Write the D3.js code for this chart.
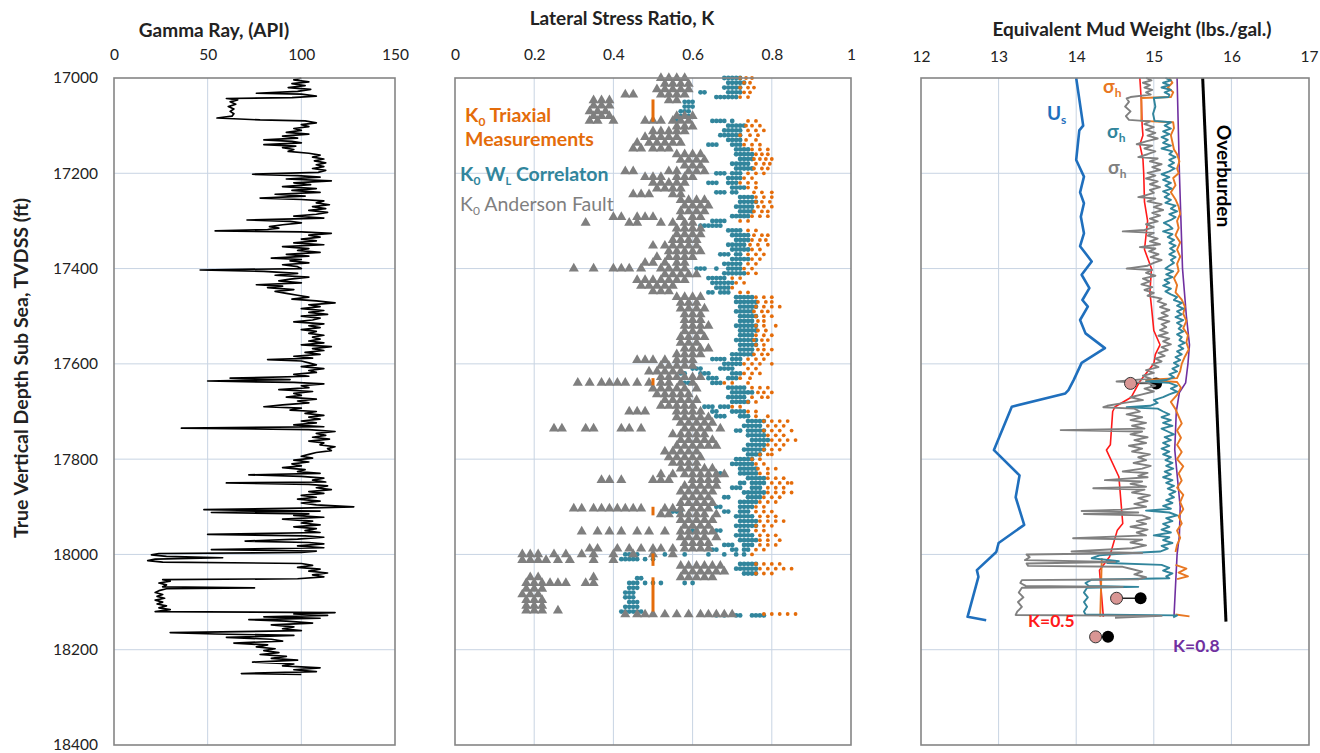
<!DOCTYPE html>
<html>
<head>
<meta charset="utf-8">
<script src="https://cdn.jsdelivr.net/npm/d3@7"></script>
<style>
  body { margin: 0; background: #fff; }
  svg text { font-family: Lato, "Open Sans", sans-serif; }
</style>
</head>
<body>
<svg width="1320" height="753"></svg>
<script>
// depth ticks shared by all three tracks
const depthTicks = [17000, 17200, 17400, 17600, 17800, 18000, 18200, 18400];
const grTicks = [0, 50, 100, 150];
const kTicks = [0, 0.2, 0.4, 0.6, 0.8, 1];
const mwTicks = [12, 13, 14, 15, 16, 17];

// gamma ray log [depth, API]
const gammaRay = [
  [17000,100],[17004,96],[17008,104],[17012,95],[17016,102],[17020,93],[17024,105],[17028,98],[17032,76],[17034,100],
  [17038,108],[17041,95],[17043,60],[17046,66],[17050,62],[17055,65],[17060,61],[17065,64],[17070,62],[17075,64],
  [17080,63],[17084,55],[17088,78],[17090,102],[17094,108],[17098,100],[17102,104],[17106,96],[17110,100],[17114,92],
  [17118,104],[17122,90],[17126,98],[17130,80],[17133,95],[17136,100],[17140,80],[17143,97],[17146,90],[17150,96],
  [17154,93],[17158,104],[17162,110],[17166,106],[17170,112],[17174,107],[17178,113],[17182,108],[17186,112],[17190,106],
  [17194,113],[17198,109],[17202,74],[17205,98],[17208,110],[17212,92],[17216,116],[17220,96],[17224,105],[17228,90],
  [17232,108],[17236,95],[17240,110],[17244,86],[17248,102],[17252,78],[17255,100],[17258,112],[17262,108],[17266,115],
  [17270,106],[17274,113],[17278,104],[17282,114],[17286,108],[17290,96],[17294,112],[17298,71],[17301,94],[17304,100],
  [17308,90],[17312,83],[17315,88],[17318,82],[17321,54],[17323,100],[17326,116],[17330,104],[17334,110],[17338,100],
  [17342,108],[17346,96],[17350,112],[17354,90],[17358,104],[17362,98],[17366,110],[17370,92],[17374,104],[17378,84],
  [17381,100],[17384,94],[17388,104],[17392,90],[17396,98],[17400,100],[17403,46],[17406,80],[17410,98],[17414,86],
  [17418,104],[17422,94],[17426,88],[17430,100],[17434,76],[17437,90],[17440,82],[17444,96],[17448,86],[17452,92],
  [17456,98],[17460,104],[17464,95],[17468,108],[17472,118],[17476,104],[17480,110],[17484,100],[17488,112],[17492,104],
  [17496,114],[17500,100],[17504,110],[17508,106],[17512,96],[17516,112],[17520,104],[17524,110],[17528,100],[17532,108],
  [17536,104],[17540,112],[17544,106],[17548,110],[17552,104],[17556,112],[17560,100],[17564,116],[17568,106],[17572,112],
  [17576,102],[17580,110],[17584,96],[17588,106],[17591,82],[17594,100],[17598,104],[17602,108],[17606,100],[17610,112],
  [17614,104],[17618,108],[17622,96],[17626,104],[17630,62],[17633,94],[17636,50],[17639,96],[17642,112],[17646,100],
  [17650,104],[17654,88],[17658,106],[17662,96],[17666,100],[17670,92],[17674,108],[17678,98],[17682,104],[17686,90],
  [17690,80],[17693,100],[17697,94],[17700,108],[17704,102],[17708,112],[17712,104],[17716,110],[17720,100],[17724,108],
  [17728,96],[17732,112],[17735,36],[17738,104],[17742,118],[17746,108],[17750,113],[17754,106],[17758,115],[17762,104],
  [17766,112],[17770,110],[17774,118],[17778,114],[17782,116],[17786,108],[17790,104],[17794,100],[17798,106],[17802,96],
  [17806,104],[17810,95],[17814,100],[17818,90],[17822,102],[17826,98],[17830,110],[17833,72],[17836,100],[17840,112],
  [17844,106],[17848,113],[17850,60],[17853,104],[17856,114],[17860,108],[17864,116],[17868,104],[17872,112],[17876,100],
  [17880,108],[17884,98],[17888,110],[17892,100],[17896,108],[17900,128],[17903,100],[17906,48],[17909,110],[17912,52],
  [17915,104],[17918,96],[17922,112],[17926,90],[17930,106],[17934,100],[17938,110],[17942,96],[17946,108],[17950,102],
  [17954,110],[17958,50],[17961,102],[17964,112],[17968,98],[17972,70],[17975,104],[17978,112],[17982,98],[17986,112],
  [17990,52],[17993,108],[17996,100],[17998,24],[18001,20],[18004,28],[18007,58],[18010,22],[18013,18],[18016,26],
  [18019,100],[18023,106],[18027,98],[18031,110],[18035,104],[18039,114],[18043,106],[18047,112],[18051,98],[18053,26],
  [18056,30],[18060,24],[18064,28],[18068,26],[18070,75],[18072,28],[18076,24],[18080,22],[18084,26],[18088,23],
  [18092,27],[18096,22],[18100,26],[18104,23],[18108,28],[18112,24],[18116,30],[18120,22],[18122,118],[18125,96],
  [18128,114],[18131,80],[18134,110],[18137,72],[18140,92],[18144,106],[18148,84],[18152,96],[18156,90],[18160,100],
  [18164,30],[18167,54],[18170,96],[18174,60],[18178,84],[18182,90],[18186,64],[18190,82],[18194,76],[18198,86],
  [18202,80],[18206,88],[18210,78],[18214,92],[18218,84],[18222,98],[18226,74],[18230,96],[18234,90],[18238,110],
  [18242,96],[18246,108],[18250,68],[18252,100]
];

// K0 Anderson fault: [depth, [K...]]
const andersonK = [
  [17000,[0.52,0.54,0.56,0.58]],[17012,[0.53,0.55,0.57,0.59]],[17024,[0.51,0.53,0.55,0.57,0.59]],
  [17035,[0.43,0.45,0.52,0.54,0.56,0.58]],[17047,[0.35,0.37,0.39,0.54,0.56]],[17058,[0.35,0.37,0.39]],
  [17070,[0.34,0.36,0.38]],[17080,[0.35,0.37,0.39,0.56,0.58,0.6]],[17090,[0.34,0.36,0.4,0.48,0.5,0.52,0.55,0.57,0.59]],
  [17102,[0.56,0.58,0.6]],[17112,[0.5,0.52,0.54,0.56,0.58]],[17124,[0.48,0.5,0.52,0.54,0.56]],
  [17136,[0.46,0.49,0.51,0.53,0.55,0.57]],[17148,[0.45,0.47,0.5,0.52,0.54]],[17160,[0.56,0.58,0.6,0.62]],
  [17172,[0.57,0.59,0.61,0.63]],[17184,[0.58,0.6,0.62]],[17196,[0.43,0.45,0.54,0.56,0.59,0.61,0.63]],
  [17208,[0.48,0.5,0.52,0.56,0.58,0.6]],[17220,[0.5,0.52,0.54,0.56,0.58]],[17232,[0.51,0.53,0.55,0.57]],
  [17244,[0.45,0.47,0.49,0.55,0.57]],[17256,[0.57,0.59,0.61,0.63]],[17268,[0.58,0.6,0.62,0.64]],
  [17280,[0.57,0.59,0.61,0.63]],[17292,[0.4,0.42,0.46,0.48,0.5,0.57,0.6,0.62]],[17304,[0.33,0.44,0.46,0.52,0.55,0.58,0.6]],
  [17316,[0.56,0.58,0.6,0.62]],[17328,[0.56,0.58,0.6,0.62]],[17340,[0.55,0.57,0.59,0.61]],
  [17352,[0.5,0.53,0.55,0.57,0.59,0.61]],[17364,[0.54,0.56,0.58,0.6,0.62]],[17376,[0.51,0.54,0.56,0.58,0.6]],
  [17388,[0.48,0.5,0.53,0.56,0.58]],[17400,[0.3,0.35,0.4,0.42,0.44,0.47,0.52,0.54,0.56,0.58]],
  [17412,[0.53,0.55,0.57,0.59,0.61]],[17424,[0.46,0.48,0.5,0.52,0.54,0.56,0.58]],[17436,[0.47,0.49,0.51,0.53,0.55]],
  [17448,[0.5,0.52,0.54]],[17460,[0.56,0.58,0.6,0.62]],[17472,[0.57,0.59,0.61]],[17484,[0.57,0.59,0.61,0.63]],
  [17496,[0.58,0.6,0.62]],[17508,[0.58,0.6,0.62]],[17520,[0.58,0.6,0.62,0.64]],[17532,[0.58,0.6,0.62]],
  [17544,[0.57,0.59,0.61,0.63]],[17556,[0.57,0.59,0.61]],[17568,[0.58,0.6,0.62,0.64]],[17580,[0.56,0.58,0.6,0.62]],
  [17592,[0.46,0.48,0.5,0.53,0.56,0.58,0.6]],[17604,[0.52,0.54,0.56,0.58,0.6]],[17616,[0.49,0.51,0.53,0.55,0.57]],
  [17628,[0.52,0.54,0.56,0.58,0.6,0.62]],[17640,[0.31,0.34,0.37,0.39,0.41,0.43,0.46,0.49,0.52,0.54,0.57,0.6]],
  [17652,[0.5,0.52,0.54,0.56,0.58,0.61]],[17664,[0.51,0.53,0.55,0.57,0.59]],[17676,[0.53,0.55,0.57,0.59,0.61]],
  [17688,[0.52,0.54,0.56,0.58,0.6]],[17700,[0.44,0.46,0.48,0.56,0.58,0.6,0.62]],[17712,[0.56,0.58,0.6,0.62,0.64]],
  [17724,[0.57,0.59,0.61,0.63,0.65]],[17736,[0.25,0.27,0.33,0.35,0.42,0.44,0.47,0.58,0.6,0.62,0.64,0.67]],
  [17748,[0.55,0.57,0.59,0.61,0.63]],[17760,[0.57,0.59,0.61,0.63,0.65]],[17772,[0.56,0.58,0.6,0.62,0.64,0.66]],
  [17784,[0.53,0.55,0.57,0.59,0.61]],[17796,[0.54,0.56,0.58,0.6,0.62]],[17808,[0.55,0.57,0.59,0.61]],
  [17820,[0.57,0.59,0.61,0.63,0.65]],[17832,[0.52,0.55,0.58,0.6,0.62,0.64,0.66,0.68]],
  [17844,[0.37,0.39,0.42,0.5,0.52,0.54,0.6,0.62,0.64,0.66]],[17856,[0.58,0.6,0.62,0.64,0.66]],
  [17868,[0.57,0.59,0.61,0.63,0.65]],[17880,[0.58,0.6,0.62,0.64]],[17892,[0.57,0.59,0.61,0.63,0.65]],
  [17904,[0.3,0.32,0.35,0.37,0.39,0.41,0.43,0.45,0.47,0.53,0.55,0.57,0.6,0.62,0.64]],
  [17916,[0.52,0.54,0.57,0.59,0.61,0.63,0.66]],[17928,[0.57,0.59,0.61,0.63,0.65]],[17940,[0.58,0.6,0.62,0.64]],
  [17952,[0.32,0.36,0.39,0.42,0.46,0.49,0.53,0.57,0.59,0.61,0.63,0.65]],[17964,[0.57,0.59,0.61,0.63,0.66]],
  [17976,[0.58,0.6,0.62,0.64]],[17988,[0.34,0.36,0.41,0.44,0.47,0.5,0.52,0.55,0.58,0.6,0.62,0.64]],
  [18000,[0.17,0.19,0.21,0.25,0.28,0.32,0.35,0.4,0.45,0.5,0.55]],[18012,[0.17,0.19,0.21,0.23,0.26,0.29,0.35,0.4]],
  [18024,[0.57,0.59,0.61,0.63,0.65,0.67]],[18036,[0.58,0.6,0.62,0.64,0.66,0.68]],
  [18048,[0.19,0.21,0.35,0.57,0.59,0.61,0.63,0.65]],[18060,[0.18,0.2,0.22,0.24,0.26,0.28,0.33,0.35]],
  [18072,[0.18,0.2,0.22]],[18084,[0.17,0.19,0.21]],[18096,[0.18,0.2,0.22]],[18108,[0.18,0.2,0.22]],
  [18118,[0.18,0.2,0.22,0.26]],[18126,[0.43,0.46,0.48,0.5,0.53,0.56,0.59,0.62,0.64,0.66,0.68,0.7]]
];

// K0 from WL correlation: [depth, [K...]]
const wlK = [
  [17000,[0.68,0.69,0.7,0.71,0.72]],[17010,[0.69,0.7,0.71,0.72,0.73]],[17020,[0.68,0.69,0.7,0.71,0.72]],
  [17030,[0.62,0.63,0.69,0.7,0.71,0.72]],[17040,[0.66,0.67,0.68,0.69,0.7,0.71]],[17050,[0.58,0.59,0.6]],
  [17060,[0.58,0.59,0.6]],[17070,[0.57,0.58,0.59]],[17080,[0.56,0.57,0.58,0.59]],
  [17090,[0.55,0.56,0.65,0.66,0.67,0.68,0.7]],[17100,[0.69,0.7,0.71,0.72,0.73]],[17110,[0.68,0.69,0.7,0.71,0.72]],
  [17120,[0.67,0.68,0.69,0.7,0.71,0.72]],[17130,[0.69,0.7,0.71,0.72]],[17140,[0.64,0.65,0.66,0.7,0.71,0.72]],
  [17150,[0.71,0.72,0.73,0.74]],[17160,[0.71,0.72,0.73,0.74,0.75]],[17170,[0.72,0.73,0.74,0.75]],
  [17180,[0.7,0.71,0.72,0.73,0.74]],[17190,[0.71,0.72,0.73,0.74,0.75]],[17200,[0.66,0.67,0.68,0.7,0.71,0.72]],
  [17210,[0.69,0.7,0.71,0.72]],[17220,[0.64,0.65,0.66,0.69,0.7,0.71]],[17230,[0.7,0.71,0.72,0.73]],
  [17240,[0.66,0.67,0.68,0.7,0.71]],[17250,[0.72,0.73,0.74,0.75]],[17260,[0.72,0.73,0.74,0.75,0.76]],
  [17270,[0.71,0.72,0.73,0.74,0.75]],[17280,[0.72,0.73,0.74,0.75]],[17290,[0.7,0.71,0.72,0.73,0.74]],
  [17300,[0.65,0.66,0.67,0.68]],[17310,[0.62,0.63,0.64,0.65,0.66,0.67]],[17320,[0.69,0.7,0.71,0.72]],
  [17330,[0.7,0.71,0.72,0.73,0.74]],[17340,[0.71,0.72,0.73,0.74]],[17350,[0.69,0.7,0.71,0.72,0.73]],
  [17360,[0.7,0.71,0.72,0.73,0.74]],[17370,[0.67,0.68,0.69,0.71,0.72]],[17380,[0.7,0.71,0.72,0.73,0.74]],
  [17390,[0.68,0.69,0.7,0.71,0.72]],[17400,[0.61,0.62,0.63,0.66,0.69,0.7,0.71,0.72]],
  [17410,[0.68,0.69,0.7,0.71,0.72,0.73]],[17420,[0.64,0.65,0.66,0.67,0.68]],[17430,[0.65,0.66,0.67,0.68,0.69,0.7]],
  [17440,[0.66,0.67,0.68,0.69]],[17450,[0.64,0.65,0.67,0.68,0.69]],[17460,[0.71,0.72,0.73,0.74,0.75]],
  [17470,[0.71,0.72,0.73,0.74,0.75,0.76]],[17480,[0.72,0.73,0.74,0.75,0.76]],[17490,[0.71,0.72,0.73,0.74,0.75]],
  [17500,[0.72,0.73,0.74,0.75,0.76]],[17510,[0.72,0.73,0.74,0.75]],[17520,[0.71,0.72,0.73,0.74,0.75,0.76]],
  [17530,[0.72,0.73,0.74,0.75,0.76]],[17540,[0.72,0.73,0.74,0.75]],[17550,[0.71,0.72,0.73,0.74,0.75,0.76]],
  [17560,[0.72,0.73,0.74,0.75,0.76]],[17570,[0.72,0.73,0.74,0.75]],[17580,[0.7,0.71,0.72,0.73,0.74,0.75]],
  [17590,[0.65,0.66,0.67,0.68,0.7,0.71,0.72]],[17600,[0.68,0.69,0.7,0.71,0.72]],
  [17610,[0.6,0.61,0.62,0.67,0.68,0.69,0.7]],[17620,[0.57,0.58,0.62,0.63,0.64,0.7,0.71,0.72]],
  [17630,[0.64,0.65,0.66,0.69,0.7,0.71]],[17640,[0.58,0.59,0.6,0.65,0.66,0.67]],[17650,[0.69,0.7,0.71,0.72,0.73]],
  [17660,[0.7,0.71,0.72,0.73,0.74,0.75]],[17670,[0.69,0.7,0.71,0.72,0.73]],[17680,[0.7,0.71,0.72,0.73,0.74]],
  [17690,[0.63,0.64,0.65,0.67,0.68,0.69]],[17700,[0.65,0.66,0.7,0.71,0.72,0.73]],[17710,[0.66,0.67,0.68,0.72,0.73,0.74]],
  [17720,[0.74,0.75,0.76,0.77,0.78]],[17730,[0.73,0.74,0.75,0.76,0.77]],[17740,[0.71,0.72,0.74,0.75,0.76,0.77,0.78]],
  [17750,[0.74,0.75,0.76,0.77,0.78]],[17760,[0.75,0.76,0.77,0.78,0.79]],[17770,[0.74,0.75,0.76,0.77,0.78]],
  [17780,[0.73,0.74,0.75,0.76,0.77,0.78]],[17790,[0.74,0.75,0.76,0.77]],[17800,[0.71,0.72,0.73,0.74,0.75]],
  [17810,[0.7,0.71,0.72,0.73,0.74,0.75]],[17820,[0.72,0.73,0.74,0.75,0.76]],[17830,[0.66,0.67,0.72,0.73,0.74,0.75,0.76]],
  [17840,[0.74,0.75,0.76,0.77,0.78]],[17850,[0.72,0.73,0.75,0.76,0.77,0.78]],[17860,[0.7,0.71,0.72,0.75,0.76,0.77]],
  [17870,[0.73,0.74,0.75,0.76,0.77,0.78]],[17880,[0.68,0.69,0.74,0.75,0.76,0.77]],[17890,[0.72,0.73,0.74,0.75,0.76]],
  [17900,[0.66,0.67,0.72,0.73,0.74,0.75]],[17910,[0.55,0.56,0.57,0.68,0.69,0.72,0.73,0.74]],
  [17920,[0.71,0.72,0.73,0.74,0.75]],[17930,[0.72,0.73,0.74,0.75,0.76]],[17940,[0.71,0.72,0.73,0.74,0.75,0.76]],
  [17950,[0.6,0.61,0.66,0.67,0.72,0.73,0.74]],[17960,[0.71,0.72,0.73,0.74,0.75]],[17970,[0.72,0.73,0.74,0.75,0.76]],
  [17980,[0.68,0.69,0.7,0.73,0.74,0.75]],[17990,[0.65,0.66,0.7,0.71,0.73,0.74]],
  [18000,[0.43,0.44,0.45,0.46,0.53,0.58,0.64,0.68,0.71,0.73]],[18010,[0.42,0.43,0.44,0.45,0.46,0.48,0.5]],
  [18020,[0.72,0.73,0.74,0.75,0.76]],[18030,[0.71,0.72,0.73,0.74,0.75,0.76]],[18040,[0.73,0.74,0.75,0.76]],
  [18050,[0.46,0.47]],[18060,[0.44,0.45,0.46,0.48,0.5,0.52,0.58,0.6]],[18070,[0.44,0.45,0.46]],
  [18080,[0.43,0.44,0.45]],[18090,[0.43,0.44,0.45]],[18100,[0.44,0.45,0.46]],[18110,[0.43,0.44,0.45,0.46]],
  [18120,[0.42,0.43,0.44,0.45,0.46,0.47]],[18128,[0.66,0.68,0.71,0.72,0.75,0.76,0.77,0.78]]
];

// K0 triaxial (orange dots): [depth, [K...]]
const triaxK = [
  [17000,[0.72,0.735,0.75]],[17010,[0.73,0.745]],[17020,[0.72,0.74,0.755]],[17030,[0.73,0.745]],[17040,[0.72,0.74]],
  [17090,[0.74,0.76]],[17100,[0.735,0.75,0.77]],[17110,[0.74,0.76,0.78]],[17120,[0.72,0.745,0.765]],[17130,[0.735,0.76]],
  [17140,[0.73,0.75,0.77]],[17150,[0.75,0.77,0.79]],[17160,[0.76,0.775,0.79]],[17170,[0.755,0.77,0.785,0.8]],
  [17180,[0.76,0.78,0.795]],[17190,[0.755,0.775,0.79]],[17200,[0.74,0.76,0.78]],[17210,[0.73,0.75]],
  [17220,[0.72,0.74,0.76]],[17230,[0.74,0.76]],[17240,[0.755,0.775,0.8]],[17250,[0.76,0.78,0.8]],
  [17260,[0.76,0.775,0.795]],[17270,[0.765,0.78,0.8]],[17280,[0.755,0.775,0.79]],[17290,[0.75,0.77,0.79]],
  [17300,[0.72,0.74]],[17320,[0.74,0.76]],[17330,[0.755,0.775,0.79]],[17340,[0.75,0.77,0.785]],
  [17350,[0.745,0.765,0.79]],[17360,[0.75,0.77]],[17370,[0.74,0.76,0.78]],[17380,[0.75,0.77]],[17390,[0.74,0.76]],
  [17400,[0.73,0.75]],[17410,[0.74,0.76]],[17420,[0.7,0.72]],[17430,[0.71,0.73]],[17440,[0.7]],[17450,[0.72,0.74]],
  [17460,[0.76,0.78,0.8]],[17470,[0.765,0.785,0.8]],[17480,[0.76,0.78,0.8,0.82]],[17490,[0.755,0.775,0.79]],
  [17500,[0.76,0.78,0.8]],[17510,[0.765,0.78]],[17520,[0.76,0.78,0.81]],[17530,[0.765,0.785]],[17540,[0.76,0.78,0.8]],
  [17550,[0.755,0.775,0.79]],[17560,[0.76,0.78]],[17570,[0.765,0.78,0.8]],[17580,[0.755,0.775,0.79]],
  [17590,[0.74,0.76,0.78]],[17600,[0.73,0.75,0.77,0.8]],[17610,[0.74,0.76]],[17620,[0.73,0.75,0.77]],
  [17630,[0.72,0.745]],[17640,[0.68,0.7,0.74]],[17650,[0.75,0.77,0.79]],[17660,[0.765,0.78,0.8]],
  [17670,[0.75,0.775,0.79]],[17680,[0.74,0.76]],[17690,[0.7,0.72]],[17700,[0.74,0.76]],[17710,[0.76,0.79]],
  [17720,[0.78,0.8,0.82,0.84]],[17730,[0.79,0.81,0.83]],[17740,[0.78,0.8,0.82,0.85]],[17750,[0.79,0.81,0.83]],
  [17760,[0.8,0.82,0.84,0.86]],[17770,[0.79,0.81,0.83]],[17780,[0.78,0.8,0.82]],[17790,[0.77,0.79,0.8]],
  [17800,[0.75,0.77]],[17810,[0.76,0.78]],[17820,[0.765,0.79,0.81]],[17830,[0.77,0.79]],[17840,[0.79,0.81,0.83]],
  [17850,[0.8,0.82,0.84,0.85]],[17860,[0.79,0.81,0.83]],[17870,[0.79,0.81,0.83,0.85]],[17880,[0.78,0.8,0.82]],
  [17890,[0.77,0.79,0.81]],[17900,[0.76,0.78]],[17910,[0.76,0.78,0.8]],[17920,[0.77,0.79,0.81]],
  [17930,[0.77,0.79,0.81,0.83]],[17940,[0.76,0.78,0.8]],[17950,[0.76,0.78]],[17960,[0.77,0.79,0.81]],
  [17970,[0.77,0.79,0.82]],[17980,[0.77,0.79,0.81]],[17990,[0.76,0.78]],[18000,[0.75]],
  [18020,[0.76,0.78,0.8,0.82]],[18030,[0.77,0.79,0.81,0.83,0.85]],[18040,[0.76,0.78,0.8]],
  [18125,[0.78,0.8,0.82,0.84,0.86]]
];

// triaxial K0 measurement intervals [K, top, bottom]
const triaxIntervals = [[0.5,17045,17092],[0.5,17630,17645],[0.5,17900,17918],[0.5,17998,18024],[0.5,18048,18120]];

// mud weight track [depth, ppg]; null breaks the line
const shOrange = [
  [17000,15.2],[17010,15.24],[17020,15.18],[17030,15.25],[17040,15.22],[17042,14.84],[17090,14.84],[17093,15.25],
  [17105,15.26],[17120,15.22],[17135,15.24],[17150,15.26],[17160,15.3],[17175,15.33],[17190,15.3],[17200,15.32],
  [17210,15.25],[17225,15.28],[17240,15.22],[17255,15.28],[17270,15.32],[17285,15.34],[17300,15.3],[17315,15.32],
  [17330,15.28],[17345,15.34],[17360,15.3],[17375,15.34],[17390,15.3],[17405,15.32],[17420,15.26],[17435,15.3],
  [17450,15.28],[17465,15.36],[17480,15.4],[17495,15.38],[17510,15.42],[17525,15.38],[17540,15.44],[17555,15.42],
  [17570,15.45],[17585,15.4],[17600,15.36],[17615,15.34],[17630,15.3],[17634,14.9],[17638,15.3],[17650,15.35],
  [17665,15.3],[17680,15.22],[17695,15.28],[17710,15.32],[17725,15.36],[17740,15.3],[17755,15.35],[17770,15.3],
  [17785,15.36],[17800,15.3],[17815,15.38],[17830,15.32],[17845,15.36],[17860,15.3],[17875,15.38],[17890,15.34],
  [17905,15.38],[17920,15.32],[17935,15.36],[17950,15.3],[17965,15.34],[17980,15.3],[17995,15.28],
  [18000,null],[18022,15.28],[18030,15.42],[18038,15.32],[18046,15.44],[18052,15.3],
  [18055,null],[18008,14.33],[18131,14.31],
  [18131,null],[18126,15.28],[18130,15.46]
];
const shTeal = [
  [17000,15.15],[17005,15.22],[17010,15.12],[17015,15.2],[17020,15.1],[17025,15.22],[17030,15.14],[17035,15.2],
  [17040,15.19],[17042,15.0],[17060,15.02],[17075,14.99],[17090,15.01],[17093,15.22],[17100,15.14],[17106,15.22],
  [17112,15.12],[17118,15.2],[17124,15.1],[17130,15.18],[17136,15.12],[17142,15.22],[17148,15.1],[17154,15.24],
  [17160,15.2],[17166,15.28],[17172,15.2],[17178,15.26],[17184,15.19],[17190,15.27],[17196,15.2],[17202,15.1],
  [17208,15.2],[17214,15.12],[17220,15.22],[17226,15.15],[17232,15.23],[17238,15.12],[17244,15.2],[17250,15.14],
  [17256,15.22],[17262,15.15],[17268,15.28],[17274,15.22],[17280,15.3],[17286,15.2],[17292,15.28],[17298,15.22],
  [17304,15.13],[17310,15.2],[17316,15.24],[17322,15.12],[17328,15.24],[17334,15.18],[17340,15.26],[17346,15.2],
  [17352,15.28],[17358,15.21],[17364,15.27],[17370,15.2],[17376,15.28],[17382,15.22],[17388,15.26],[17394,15.2],
  [17400,15.15],[17406,15.25],[17412,15.16],[17418,15.24],[17424,15.14],[17430,15.2],[17436,15.12],[17442,15.22],
  [17448,15.15],[17454,15.22],[17460,15.3],[17466,15.26],[17472,15.36],[17478,15.3],[17484,15.38],[17490,15.3],
  [17496,15.36],[17502,15.28],[17508,15.38],[17514,15.3],[17520,15.36],[17526,15.32],[17532,15.38],[17538,15.3],
  [17544,15.36],[17550,15.33],[17556,15.4],[17562,15.32],[17568,15.38],[17574,15.3],[17580,15.36],[17586,15.28],
  [17592,15.34],[17598,15.26],[17604,15.32],[17610,15.24],[17616,15.3],[17622,15.2],[17628,15.26],[17634,15.16],
  [17637,14.9],[17640,15.2],[17646,15.3],[17652,15.22],[17658,15.3],[17664,15.2],[17670,15.12],[17676,15.0],
  [17682,15.05],[17688,14.95],[17691,14.65],[17694,15.05],[17700,15.12],[17706,15.2],[17712,15.1],[17718,15.22],
  [17724,15.12],[17730,15.24],[17736,15.1],[17742,15.18],[17748,15.26],[17754,15.14],[17760,15.22],[17766,15.12],
  [17772,15.2],[17778,15.1],[17784,15.2],[17790,15.12],[17796,15.22],[17802,15.15],[17808,15.24],[17814,15.16],
  [17820,15.25],[17826,15.14],[17832,15.22],[17838,15.12],[17844,15.24],[17850,15.16],[17856,15.26],[17862,15.18],
  [17868,15.28],[17874,15.2],[17880,15.26],[17886,15.16],[17892,15.24],[17898,15.12],[17904,15.22],[17908,14.9],
  [17912,15.2],[17918,15.3],[17924,15.16],[17930,15.24],[17936,15.12],[17942,15.2],[17948,15.1],[17954,15.22],
  [17960,15.0],[17964,15.2],[17970,15.12],[17976,15.24],[17982,15.1],[17988,15.18],[17994,15.08],[17998,14.6],
  [18002,14.3],[18008,14.2],[18014,14.55],[18018,14.4],[18022,15.1],[18028,15.2],[18034,15.12],[18040,15.24],
  [18046,15.16],[18050,15.2],[18053,14.2],[18060,14.12],[18066,14.16],[18068,14.8],[18070,14.14],[18080,14.1],
  [18090,14.15],[18100,14.1],[18110,14.14],[18120,14.1],[18126,14.12],[18128,15.3],[18132,15.25]
];
const shGray = [
  [17000,14.9],[17005,14.97],[17010,14.86],[17015,14.95],[17020,14.88],[17025,14.98],[17030,14.9],[17035,14.96],
  [17040,14.7],[17043,14.65],[17050,14.68],[17060,14.63],[17070,14.7],[17080,14.64],[17088,14.68],[17091,14.95],
  [17097,14.88],[17103,15.0],[17109,14.9],[17115,15.02],[17121,14.92],[17127,15.05],[17133,14.9],[17139,14.78],
  [17142,14.98],[17148,14.88],[17154,15.02],[17160,14.92],[17166,14.8],[17169,15.05],[17175,14.95],[17181,15.1],
  [17187,14.98],[17193,15.08],[17199,14.92],[17205,15.02],[17211,14.9],[17217,15.05],[17223,14.95],[17229,15.08],
  [17235,14.95],[17241,15.0],[17247,14.88],[17250,14.8],[17253,15.02],[17259,14.92],[17265,15.1],[17271,15.0],
  [17277,15.12],[17283,14.98],[17289,15.08],[17295,14.95],[17301,15.05],[17307,14.9],[17313,15.0],[17319,14.88],
  [17322,14.6],[17325,15.0],[17331,14.92],[17337,15.05],[17343,14.95],[17349,15.08],[17355,14.82],[17358,15.02],
  [17364,14.94],[17370,15.06],[17376,14.96],[17382,15.1],[17388,15.0],[17394,14.92],[17400,14.65],[17403,14.98],
  [17409,14.9],[17415,15.02],[17421,14.86],[17427,14.95],[17433,14.84],[17439,14.98],[17445,14.88],[17451,15.0],
  [17457,14.92],[17463,15.1],[17469,15.05],[17475,15.16],[17481,15.08],[17487,15.2],[17493,15.1],[17499,15.18],
  [17505,15.06],[17511,15.2],[17517,15.1],[17523,15.16],[17529,15.08],[17535,15.18],[17541,15.06],[17547,15.2],
  [17553,15.12],[17559,15.22],[17565,15.1],[17571,15.18],[17577,15.06],[17583,15.14],[17589,15.02],[17595,15.1],
  [17601,14.98],[17607,15.06],[17613,14.9],[17619,15.0],[17625,14.86],[17631,14.96],[17637,14.52],[17640,14.92],
  [17646,15.02],[17652,14.88],[17658,15.0],[17664,14.85],[17670,14.7],[17676,14.86],[17682,14.62],[17688,14.4],
  [17691,14.35],[17694,14.75],[17700,14.82],[17706,14.65],[17712,14.85],[17718,14.7],[17724,14.9],[17730,14.72],
  [17736,14.88],[17739,13.8],[17742,14.85],[17748,14.7],[17754,14.92],[17760,14.75],[17766,14.9],[17772,14.68],
  [17778,14.85],[17784,14.72],[17790,14.95],[17796,14.8],[17802,14.9],[17808,14.74],[17814,14.96],[17820,14.85],
  [17826,14.6],[17829,14.92],[17835,14.8],[17838,14.92],[17844,14.37],[17847,14.85],[17852,14.7],[17858,14.9],
  [17861,14.22],[17864,14.88],[17870,14.72],[17876,14.95],[17882,14.8],[17888,14.92],[17894,14.75],[17900,14.9],
  [17906,14.6],[17909,14.07],[17912,14.8],[17915,14.1],[17918,14.85],[17924,14.95],[17930,14.78],[17936,14.9],
  [17942,14.7],[17948,14.92],[17954,14.78],[17960,14.9],[17966,13.96],[17969,14.85],[17975,14.7],[17981,14.9],
  [17987,14.72],[17994,13.94],[17997,14.85],[18000,13.36],[18006,13.4],[18012,13.34],[18016,14.5],[18019,13.36],
  [18024,13.38],[18026,14.6],[18030,14.7],[18036,14.85],[18042,14.75],[18048,14.9],[18052,14.8],[18054,13.3],
  [18060,13.28],[18066,13.35],[18068,14.6],[18070,13.3],[18080,13.26],[18090,13.32],[18100,13.25],[18110,13.3],
  [18120,13.24],[18127,13.22],[18129,15.1],[18133,14.5]
];
const kHalf = [
  [17000,14.82],[17050,14.84],[17100,14.85],[17120,14.86],[17140,14.82],[17170,14.86],[17200,14.87],[17260,14.88],
  [17300,14.92],[17330,14.9],[17360,14.88],[17400,14.97],[17450,14.95],[17480,14.97],[17530,15.0],[17560,15.08],
  [17580,15.02],[17600,15.0],[17620,14.9],[17637,14.82],[17670,14.71],[17690,14.5],[17700,14.47],[17770,14.44],
  [17781,14.39],[17837,14.55],[17935,14.6],[17949,14.53],[18005,14.43],[18033,14.3],[18131,14.35]
];
const kEight = [
  [17000,15.3],[17200,15.33],[17400,15.37],[17500,15.42],[17560,15.46],[17600,15.44],[17640,15.41],[17660,15.33],
  [17700,15.29],[17780,15.27],[17900,15.34],[17960,15.33],[18000,15.3],[18131,15.26]
];
const overburden = [[17000,15.63],[18141,15.93]];
const porePressure = [
  [17000,14.0],[17100,14.09],[17110,14.04],[17172,14.0],[17207,14.1],[17240,14.05],[17263,14.1],[17291,14.06],
  [17326,14.1],[17353,14.05],[17385,14.2],[17413,14.07],[17441,14.17],[17466,14.08],[17480,14.15],[17508,14.05],
  [17536,14.12],[17567,14.37],[17598,14.07],[17633,13.97],[17655,13.9],[17662,13.86],[17690,13.17],[17781,12.94],
  [17834,13.27],[17880,13.22],[17938,13.33],[17976,13.0],[17995,12.97],[18033,12.72],[18047,12.74],[18131,12.6],
  [18138,12.84]
];
// paired measurements [depth, pink value, black value]
const testPairs = [[17641,14.7,15.03],[18092,14.52,14.83],[18173,14.25,14.41]];

const svg = d3.select('svg');
const y = d3.scaleLinear().domain([17000, 18400]).range([78, 745]);

const tracks = [
  {x: d3.scaleLinear().domain([0, 150]).range([114, 395]), ticks: grTicks, fmt: d => d},
  {x: d3.scaleLinear().domain([0, 1]).range([455, 851]), ticks: kTicks, fmt: d => d},
  {x: d3.scaleLinear().domain([12, 17]).range([921, 1309]), ticks: mwTicks, fmt: d => d}
];

const gridColor = '#c8d4e3';
const frameColor = '#858585';

tracks.forEach((t, i) => {
  const g = svg.append('g');
  const [x0, x1] = t.x.range();
  g.selectAll('.vg').data(t.ticks.slice(1, -1)).join('line')
    .attr('x1', d => t.x(d)).attr('x2', d => t.x(d))
    .attr('y1', y(17000)).attr('y2', y(18400))
    .attr('stroke', gridColor).attr('stroke-width', 1);
  g.selectAll('.hg').data(depthTicks.slice(1, -1)).join('line')
    .attr('x1', x0).attr('x2', x1)
    .attr('y1', d => y(d)).attr('y2', d => y(d))
    .attr('stroke', gridColor).attr('stroke-width', 1);

  const ax = svg.append('g')
    .attr('transform', `translate(0,${i === 2 ? 62 : 60})`)
    .call(d3.axisTop(t.x).tickValues(t.ticks).tickFormat(t.fmt).tickSize(0).tickPadding(0));
  ax.select('.domain').remove();
  ax.selectAll('text').attr('font-size', 15.5).attr('fill', '#222').attr('dy', 0);
  t.g = g;
});

// depth axis
const yAx = svg.append('g').attr('transform', 'translate(98,0)')
  .call(d3.axisLeft(y).tickValues(depthTicks).tickFormat(d => d).tickSize(0).tickPadding(0));
yAx.select('.domain').remove();
yAx.selectAll('text').attr('font-size', 15.5).attr('fill', '#222');

svg.append('text')
  .attr('transform', 'translate(28,368) rotate(-90)')
  .attr('text-anchor', 'middle').attr('font-size', 19.5).attr('font-weight', 'bold').attr('fill', '#222')
  .text('True Vertical Depth Sub Sea, TVDSS (ft)');

// titles
const titles = [['Gamma Ray, (API)', 214, 37], ['Lateral Stress Ratio, K', 622, 25], ['Equivalent Mud Weight (lbs./gal.)', 1132, 36]];
svg.selectAll('.title').data(titles).join('text')
  .attr('x', d => d[1]).attr('y', d => d[2])
  .attr('text-anchor', 'middle').attr('font-size', 19).attr('font-weight', 'bold').attr('fill', '#222')
  .text(d => d[0]);

const lineFor = sx => d3.line().defined(d => d[1] !== null).x(d => sx(d[1])).y(d => y(d[0]));

// --- track 1: gamma ray
const gx = tracks[0].x;
tracks[0].g.append('path').attr('d', lineFor(gx)(gammaRay))
  .attr('fill', 'none').attr('stroke', '#000').attr('stroke-width', 1.7).attr('stroke-linejoin', 'round');

// --- track 2: lateral stress ratio
const kx = tracks[1].x;
const flat = rows => rows.flatMap(([d, ks]) => ks.map(k => [d, k]));
const g2 = tracks[1].g;
g2.selectAll('.wl').data(flat(wlK)).join('circle')
  .attr('cx', d => kx(d[1])).attr('cy', d => y(d[0])).attr('r', 2.4).attr('fill', '#31859c');
g2.selectAll('.tx').data(flat(triaxK)).join('circle')
  .attr('cx', d => kx(d[1])).attr('cy', d => y(d[0])).attr('r', 1.9).attr('fill', '#e46c0a');
const tri = d3.symbol(d3.symbolTriangle, 44);
g2.selectAll('.af').data(flat(andersonK)).join('path')
  .attr('d', tri).attr('transform', d => `translate(${kx(d[1])},${y(d[0])})`).attr('fill', '#7f7f7f');
g2.selectAll('.ti').data(triaxIntervals).join('line')
  .attr('x1', d => kx(d[0])).attr('x2', d => kx(d[0]))
  .attr('y1', d => y(d[1])).attr('y2', d => y(d[2]))
  .attr('stroke', '#e46c0a').attr('stroke-width', 3);

// legend for track 2
const legend = [
  {t: 'K', s: '0', rest: ' Triaxial', x: 465, y: 122, c: '#e46c0a', w: 'bold'},
  {t: 'Measurements', s: '', rest: '', x: 465, y: 146, c: '#e46c0a', w: 'bold'},
  {t: 'K', s: '0', rest: ' W', s2: 'L', rest2: ' Correlaton', x: 460, y: 181, c: '#31859c', w: 'bold'},
  {t: 'K', s: '0', rest: ' Anderson Fault', x: 460, y: 211, c: '#7f7f7f', w: 'normal'}
];
legend.forEach(l => {
  const tx = svg.append('text').attr('x', l.x).attr('y', l.y).attr('font-size', 19.5)
    .attr('font-weight', l.w).attr('fill', l.c);
  tx.append('tspan').text(l.t);
  if (l.s) tx.append('tspan').attr('font-size', 12).attr('dy', 4).text(l.s);
  if (l.rest) tx.append('tspan').attr('dy', l.s ? -4 : 0).text(l.rest);
  if (l.s2) {
    tx.append('tspan').attr('font-size', 11).attr('dy', 4).text(l.s2);
    tx.append('tspan').attr('dy', -4).text(l.rest2);
  }
});

// --- track 3: mud weight
const mx = tracks[2].x;
const g3 = tracks[2].g;
const drawLine = (data, color, w) => g3.append('path').attr('d', lineFor(mx)(data))
  .attr('fill', 'none').attr('stroke', color).attr('stroke-width', w).attr('stroke-linejoin', 'round');

// connectors and black markers sit under the stress curves
const pairs = g3.selectAll('.pair').data(testPairs).join('g');
pairs.append('line')
  .attr('x1', d => mx(d[1])).attr('x2', d => mx(d[2]))
  .attr('y1', d => y(d[0])).attr('y2', d => y(d[0]))
  .attr('stroke', '#222').attr('stroke-width', 1.5);
pairs.append('circle').attr('cx', d => mx(d[2])).attr('cy', d => y(d[0])).attr('r', 6)
  .attr('fill', '#000');

drawLine(kHalf, '#ff1a1a', 1.6);
drawLine(kEight, '#7030a0', 1.6);
drawLine(shOrange, '#e87722', 1.9);
drawLine(shTeal, '#31859c', 1.9);
drawLine(shGray, '#808080', 1.9);
drawLine(porePressure, '#1f6fbd', 2.6);
drawLine(overburden, '#000', 3);

g3.selectAll('.pink').data(testPairs).join('circle')
  .attr('cx', d => mx(d[1])).attr('cy', d => y(d[0])).attr('r', 6)
  .attr('fill', '#d99694').attr('stroke', '#333').attr('stroke-width', 1);

// labels on track 3
const sig = [['#e87722', 1103, 93], ['#31859c', 1107, 138], ['#808080', 1108, 174]];
sig.forEach(([c, x, yy]) => {
  const t = svg.append('text').attr('x', x).attr('y', yy).attr('font-size', 19).attr('font-weight', 'bold').attr('fill', c);
  t.append('tspan').text('σ');
  t.append('tspan').attr('font-size', 12).attr('dy', 4).text('h');
});
const us = svg.append('text').attr('x', 1047).attr('y', 120).attr('font-size', 19).attr('font-weight', 'bold').attr('fill', '#1f6fbd');
us.append('tspan').text('U');
us.append('tspan').attr('font-size', 12).attr('dy', 4).text('s');

svg.append('text').attr('transform', 'translate(1217,176) rotate(90)')
  .attr('text-anchor', 'middle').attr('font-size', 19).attr('font-weight', 'bold').attr('fill', '#000')
  .text('Overburden');
svg.append('text').attr('x', 1028).attr('y', 627).attr('font-size', 17.5).attr('font-weight', 'bold')
  .attr('fill', '#ff1a1a').text('K=0.5');
svg.append('text').attr('x', 1173).attr('y', 652).attr('font-size', 17.5).attr('font-weight', 'bold')
  .attr('fill', '#7030a0').text('K=0.8');

// frames
tracks.forEach(t => {
  const [x0, x1] = t.x.range();
  svg.append('rect').attr('x', x0).attr('y', y(17000)).attr('width', x1 - x0).attr('height', y(18400) - y(17000))
    .attr('fill', 'none').attr('stroke', frameColor).attr('stroke-width', 1.6);
});
</script>
</body>
</html>
